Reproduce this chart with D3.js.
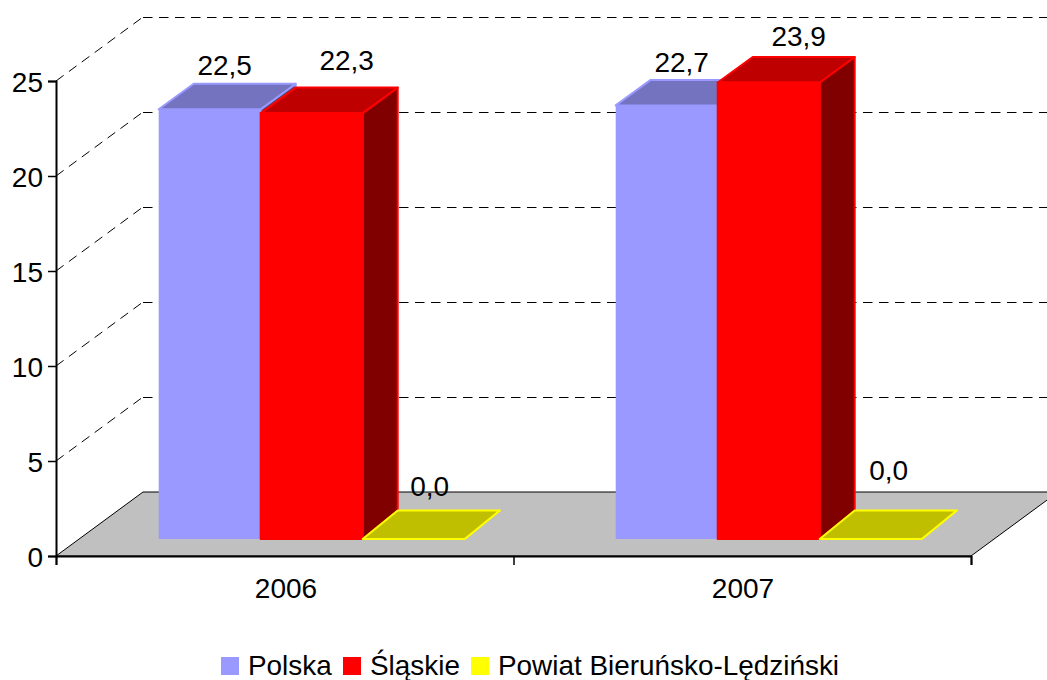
<!DOCTYPE html>
<html>
<head>
<meta charset="utf-8">
<script src="https://cdn.jsdelivr.net/npm/d3@7/dist/d3.min.js"></script>
<style>
html,body{margin:0;padding:0;background:#fff}
svg{display:block}
text{font-family:"Liberation Sans",Arial,sans-serif;fill:#000}
</style>
</head>
<body>
<svg id="c" width="1047" height="680"></svg>
<script>
const categories = ["2006", "2007"];
const seriesNames = ["Polska", "Śląskie", "Powiat Bieruńsko-Lędziński"];
const polska = [22.5, 22.7];
const slaskie = [22.3, 23.9];
const powiat = [0.0, 0.0];
const seriesValues = [polska, slaskie, powiat];
const yTickValues = [0, 5, 10, 15, 20, 25];

const seriesColors = ["#9999ff", "#ff0000", "#ffff00"];
const seriesTops = ["#7373bf", "#bf0000", "#bfbf00"];
const seriesSides = ["#4d4d80", "#800000", "#808000"];
const fontSize = 28;

const svg = d3.select("#c");
const wallDx = 87, wallDy = 64, barDx = 35, barDy = 25.5, flatDy = 28.5;

const x0 = d3.scaleBand().domain(categories).range([56, 970]);
const y = d3.scaleLinear().domain([0, 25]).range([556, 81]);
const yBar = d3.scaleLinear().domain([0, 25]).range([539, 61.5]);
const x1 = d3.scaleBand().domain(seriesNames).range([102.7, 408.7]);

// back wall grid
const grid = svg.append("g").attr("fill", "none").attr("stroke", "#000").attr("stroke-width", 1).attr("stroke-dasharray", "9.5 6.5");
yTickValues.filter(v => v > 0).forEach(v => {
  grid.append("line").attr("x1", 56).attr("y1", y(v)).attr("x2", 56 + wallDx).attr("y2", y(v) - wallDy);
  grid.append("line").attr("x1", 56 + wallDx).attr("y1", y(v) - wallDy + 0.5).attr("x2", 1047).attr("y2", y(v) - wallDy + 0.5);
});

// floor
const floor = [[56, y(0)], [971, y(0)], [971 + wallDx, y(0) - wallDy], [56 + wallDx, y(0) - wallDy]];
svg.append("polygon").attr("points", floor.join(" ")).attr("fill", "#c0c0c0").attr("stroke", "#000").attr("stroke-width", 1);

// bars
const g = svg.append("g");
seriesNames.forEach((name, s) => {
  categories.forEach((cat, c) => {
    const v = seriesValues[s][c];
    const l = x0(cat) + x1(name), w = x1.bandwidth(), r = l + w;
    const t = yBar(v), b = yBar(0);
    const dy = v > 0 ? barDy : flatDy;
    const bar = g.append("g").attr("stroke", seriesColors[s]).attr("stroke-width", 2).attr("stroke-linejoin", "round");
    bar.append("polygon").attr("fill", seriesSides[s])
      .attr("points", [[r, t], [r + barDx, t - dy], [r + barDx, b - flatDy], [r, b]].join(" "));
    bar.append("polygon").attr("fill", seriesTops[s])
      .attr("points", [[l, t], [l + barDx, t - dy], [r + barDx, t - dy], [r, t]].join(" "));
    if (v > 0) {
      bar.append("rect").attr("x", l).attr("y", t).attr("width", w).attr("height", b - t)
        .attr("fill", seriesColors[s]).attr("stroke", s === 0 ? "none" : seriesColors[s]);
    }
  });
});

// axes
const yAxis = d3.axisLeft(y).tickValues(yTickValues).tickSize(8).tickPadding(5).tickFormat(d3.format("d"));
const ya = svg.append("g").attr("transform", "translate(56,0)").call(yAxis);
ya.select(".domain").attr("stroke", "#000").attr("stroke-width", 2);
ya.selectAll(".tick line").attr("stroke", "#000").attr("stroke-width", 1.5);
ya.selectAll("text").attr("font-size", fontSize).attr("font-family", null).attr("dy", "0.38em");

const xAxis = d3.axisBottom(d3.scaleLinear().domain([0, 2]).range([56, 971])).tickValues([0, 1, 2]).tickSize(9).tickFormat("");
const xa = svg.append("g").attr("transform", `translate(0,${y(0)})`).call(xAxis);
xa.select(".domain").attr("stroke", "#000").attr("stroke-width", 2);
xa.selectAll(".tick line").attr("stroke", "#000").attr("stroke-width", 1.5);

categories.forEach(cat => {
  svg.append("text").attr("x", x0(cat) + x0.bandwidth() / 2 + 1.5).attr("y", 598)
    .attr("text-anchor", "middle").attr("font-size", fontSize).text(cat);
});

// value labels: nudges relative to each bar's back top centre
const labelNudgeX = [[15, 15], [35, 30], [16, 18]];
const labelNudgeY = [[-9, -8], [-18, -11], [-15, -31]];
const fmt = v => v.toFixed(1).replace(".", ",");
seriesNames.forEach((name, s) => {
  categories.forEach((cat, c) => {
    const v = seriesValues[s][c];
    const cx = x0(cat) + x1(name) + x1.bandwidth() / 2;
    const dy = v > 0 ? barDy : flatDy;
    svg.append("text").attr("x", cx + labelNudgeX[s][c]).attr("y", yBar(v) - dy + labelNudgeY[s][c])
      .attr("text-anchor", "middle").attr("font-size", fontSize).text(fmt(v));
  });
});

// legend
const legendSwatchX = [221, 343, 471];
seriesNames.forEach((name, s) => {
  svg.append("rect").attr("x", legendSwatchX[s]).attr("y", 657).attr("width", 18).attr("height", 18).attr("fill", seriesColors[s]);
  svg.append("text").attr("x", legendSwatchX[s] + 27).attr("y", 675).attr("font-size", 27.9).text(name);
});
</script>
</body>
</html>
